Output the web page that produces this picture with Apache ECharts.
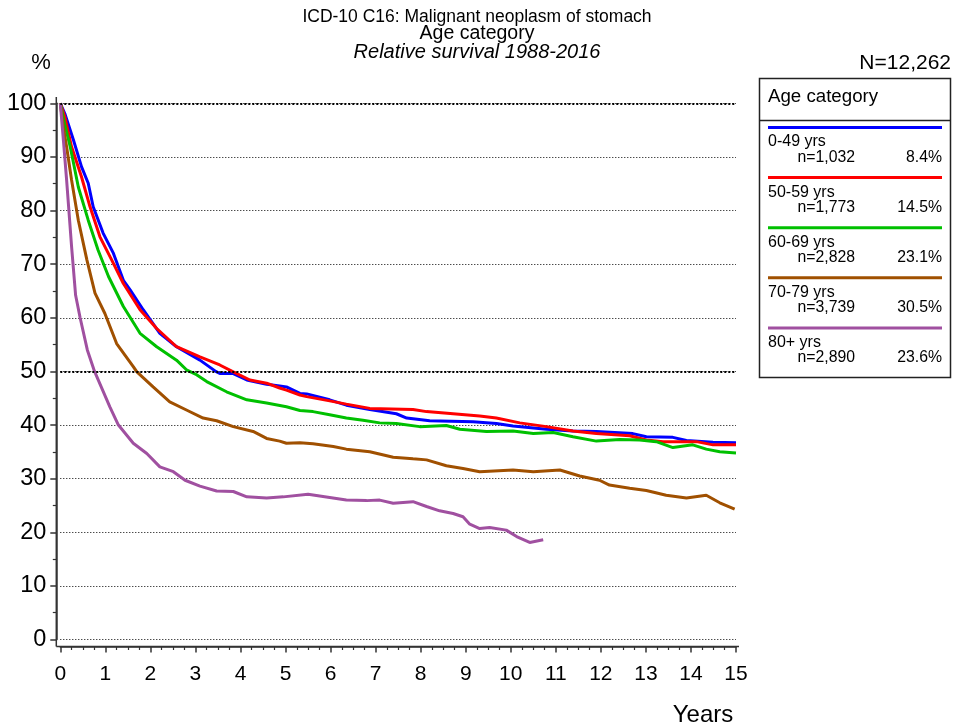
<!DOCTYPE html>
<html><head><meta charset="utf-8">
<script src="https://cdn.jsdelivr.net/npm/echarts@6/dist/echarts.min.js"></script>
<style>html,body{margin:0;padding:0;background:#fff}#c{width:954px;height:727px}</style>
</head><body><div id="c"></div><script>
// ---- data (years, relative survival %) ----
const s0049 = [[0,100],[0.1,98.1],[0.29,93.2],[0.47,88.2],[0.62,85.1],[0.73,80.7],[0.95,75.8],[1.18,72.0],[1.4,67.0],[1.55,65.2],[1.84,61.5],[2.21,57.1],[2.58,54.6],[3.1,52.1],[3.45,50.0],[3.54,49.6],[3.84,49.6],[4.14,48.4],[4.58,47.6],[4.87,47.3],[5.02,47.1],[5.32,45.9],[5.47,45.8],[5.98,44.7],[6.35,43.7],[6.87,42.9],[7.46,42.1],[7.69,41.3],[8.2,40.8],[9.16,40.6],[9.68,40.3],[10.05,39.8],[10.79,39.2],[11.38,38.9],[11.9,38.8],[12.71,38.4],[13.01,37.8],[13.6,37.7],[13.9,37.1],[14.49,36.8],[15,36.7]];
const s5059 = [[0,100],[0.1,97.5],[0.25,91.9],[0.47,86.3],[0.66,80.7],[0.88,75.1],[1.14,70.8],[1.4,66.4],[1.77,61.5],[2.14,58.0],[2.58,54.6],[3.1,52.7],[3.54,51.2],[3.84,49.9],[4.21,48.4],[4.58,47.8],[4.87,46.9],[5.02,46.5],[5.32,45.6],[5.47,45.3],[5.98,44.5],[6.35,43.9],[6.87,43.1],[7.83,42.9],[8.13,42.5],[8.72,42.1],[9.31,41.7],[9.68,41.3],[10.2,40.4],[10.79,39.7],[11.38,38.9],[11.9,38.4],[12.64,38.0],[13.01,37.2],[13.38,36.9],[14.12,36.9],[14.49,36.3],[15,36.3]];
const s6069 = [[0,100],[0.1,96.0],[0.22,91.9],[0.4,84.4],[0.62,78.2],[0.84,72.6],[1.07,67.7],[1.4,62.1],[1.77,57.1],[2.14,54.6],[2.58,52.1],[2.8,50.3],[3.0,49.5],[3.25,48.1],[3.69,46.2],[4.14,44.7],[4.58,44.1],[5.02,43.4],[5.32,42.7],[5.61,42.5],[5.98,41.9],[6.35,41.3],[6.72,40.9],[7.09,40.4],[7.46,40.3],[7.98,39.7],[8.57,39.9],[8.87,39.2],[9.46,38.8],[10.05,38.9],[10.5,38.4],[10.94,38.6],[11.38,37.8],[11.9,37.0],[12.42,37.3],[12.86,37.2],[13.23,36.9],[13.6,35.8],[14.04,36.3],[14.34,35.5],[14.64,35.0],[15,34.8]];
const s7079 = [[0,100],[0.07,95.5],[0.14,91.9],[0.25,85.7],[0.4,78.2],[0.59,70.8],[0.77,64.6],[0.99,60.8],[1.25,55.2],[1.62,50.9],[1.7,49.9],[2.06,47.1],[2.43,44.3],[2.8,42.8],[3.17,41.3],[3.47,40.8],[3.84,39.7],[4.28,38.8],[4.58,37.5],[4.87,37.0],[5.02,36.6],[5.32,36.7],[5.61,36.5],[6.06,36.0],[6.35,35.5],[6.87,35.0],[7.39,34.0],[7.83,33.7],[8.13,33.5],[8.57,32.4],[8.94,31.9],[9.31,31.3],[10.05,31.6],[10.5,31.3],[11.09,31.6],[11.53,30.5],[11.97,29.7],[12.19,28.8],[12.64,28.2],[13.01,27.8],[13.45,26.9],[13.9,26.4],[14.34,26.9],[14.64,25.5],[14.97,24.3]];
const s80p = [[0,100],[0.07,93],[0.14,85.7],[0.25,73.3],[0.34,64.2],[0.44,60.0],[0.6,54.0],[0.76,50.0],[1.1,43.4],[1.29,40.0],[1.62,36.6],[1.92,34.7],[2.21,32.2],[2.51,31.3],[2.77,29.7],[3.1,28.6],[3.47,27.7],[3.84,27.6],[4.14,26.6],[4.58,26.4],[4.95,26.6],[5.5,27.1],[5.98,26.5],[6.35,26.0],[6.8,25.9],[7.09,26.0],[7.39,25.4],[7.83,25.7],[8.13,24.8],[8.42,24.0],[8.72,23.5],[8.94,22.9],[9.09,21.5],[9.31,20.7],[9.53,20.9],[9.9,20.4],[10.13,19.2],[10.42,18.1],[10.72,18.6]];

const groupNames = ['0-49 yrs','50-59 yrs','60-69 yrs','70-79 yrs','80+ yrs'];
const groupN = ['n=1,032','n=1,773','n=2,828','n=3,739','n=2,890'];
const groupPct = ['8.4%','14.5%','23.1%','30.5%','23.6%'];
const seriesData = [s0049, s5059, s6069, s7079, s80p];
const colors = ['#0000FF','#FF0000','#00C000','#A05000','#A050A0'];
const refLines = [50, 100];

const FONT = '"Liberation Sans", Arial, sans-serif';
const chart = echarts.init(document.getElementById('c'), null, {renderer:'canvas'});

const series = seriesData.map((d,i)=>({
  name: groupNames[i], type:'line', data:d, showSymbol:false, symbol:'none',
  lineStyle:{color:colors[i], width:3}, itemStyle:{color:colors[i]}, z:3, silent:true
}));
series.push({
  type:'line', data:[], z:1, silent:true,
  markLine:{silent:true, symbol:'none', label:{show:false}, animation:false,
    lineStyle:{color:'#000', width:2, type:[2,2]},
    data: refLines.map(v=>({yAxis:v}))}
});

const gfx = [];
const txt = (x,y,t,size,align,extra)=>({type:'text', x, y, style:{text:t, fill:'#000', font:`${extra||''} ${size}px ${FONT}`, textAlign:align||'left', textVerticalAlign:'middle'}});
gfx.push(txt(477,17,'ICD-10 C16: Malignant neoplasm of stomach',17.5,'center'));
gfx.push(txt(477,34,'Age category',19.5,'center'));
gfx.push(txt(477,52,'Relative survival 1988-2016',20,'center','italic'));
gfx.push(txt(41,63,'%',22,'center'));
gfx.push(txt(951,63,'N=12,262',21,'right'));
gfx.push(txt(703,715,'Years',24,'center'));
gfx.push({type:'rect', shape:{x:759.5,y:78.5,width:191,height:299}, style:{fill:'none', stroke:'#222', lineWidth:1.5}});
gfx.push({type:'line', shape:{x1:759.5,y1:120.5,x2:950.5,y2:120.5}, style:{stroke:'#222', lineWidth:1.5}});
gfx.push(txt(768,97,'Age category',18.7,'left'));
groupNames.forEach((nm,i)=>{
  const y0 = 127.5 + 50.1*i;
  gfx.push({type:'line', shape:{x1:768,y1:y0,x2:942,y2:y0}, style:{stroke:colors[i], lineWidth:3}});
  gfx.push(txt(768,y0+14.5,nm,16,'left'));
  gfx.push(txt(855,y0+30,groupN[i],15.8,'right'));
  gfx.push(txt(942,y0+30,groupPct[i],15.8,'right'));
});
// axis line extensions (reference axes run slightly past the plot area)
gfx.push({type:'line', shape:{x1:56.3,y1:97,x2:56.3,y2:646.5}, style:{stroke:'#333', lineWidth:1.5}, z:10});
gfx.push({type:'line', shape:{x1:56.3,y1:646.5,x2:739,y2:646.5}, style:{stroke:'#333', lineWidth:1.5}, z:10});

chart.setOption({
  animation:false,
  backgroundColor:'#fff',
  grid:{left:60.3, right:218, top:103.3, bottom:87.5, containLabel:false},
  xAxis:{type:'value', min:0, max:15, interval:1, offset:7,
    axisLine:{show:true, onZero:false, lineStyle:{color:'#333', width:1.5}},
    axisTick:{show:true, length:6, lineStyle:{color:'#333', width:1.5}},
    minorTick:{show:true, splitNumber:4, length:3.5, lineStyle:{color:'#333', width:1.2}},
    axisLabel:{fontSize:21, color:'#000', margin:17, fontFamily:FONT},
    splitLine:{show:false}},
  yAxis:{type:'value', min:0, max:100, interval:10, offset:4,
    axisLine:{show:true, onZero:false, lineStyle:{color:'#333', width:1.5}},
    axisTick:{show:true, length:6, lineStyle:{color:'#333', width:1.5}},
    minorTick:{show:true, splitNumber:2, length:3.5, lineStyle:{color:'#333', width:1.2}},
    axisLabel:{fontSize:23.5, color:'#000', margin:10, fontFamily:FONT},
    splitLine:{show:true, lineStyle:{color:'#000', width:1, type:[1,2]}}},
  series,
  graphic: gfx
});
</script></body></html>
